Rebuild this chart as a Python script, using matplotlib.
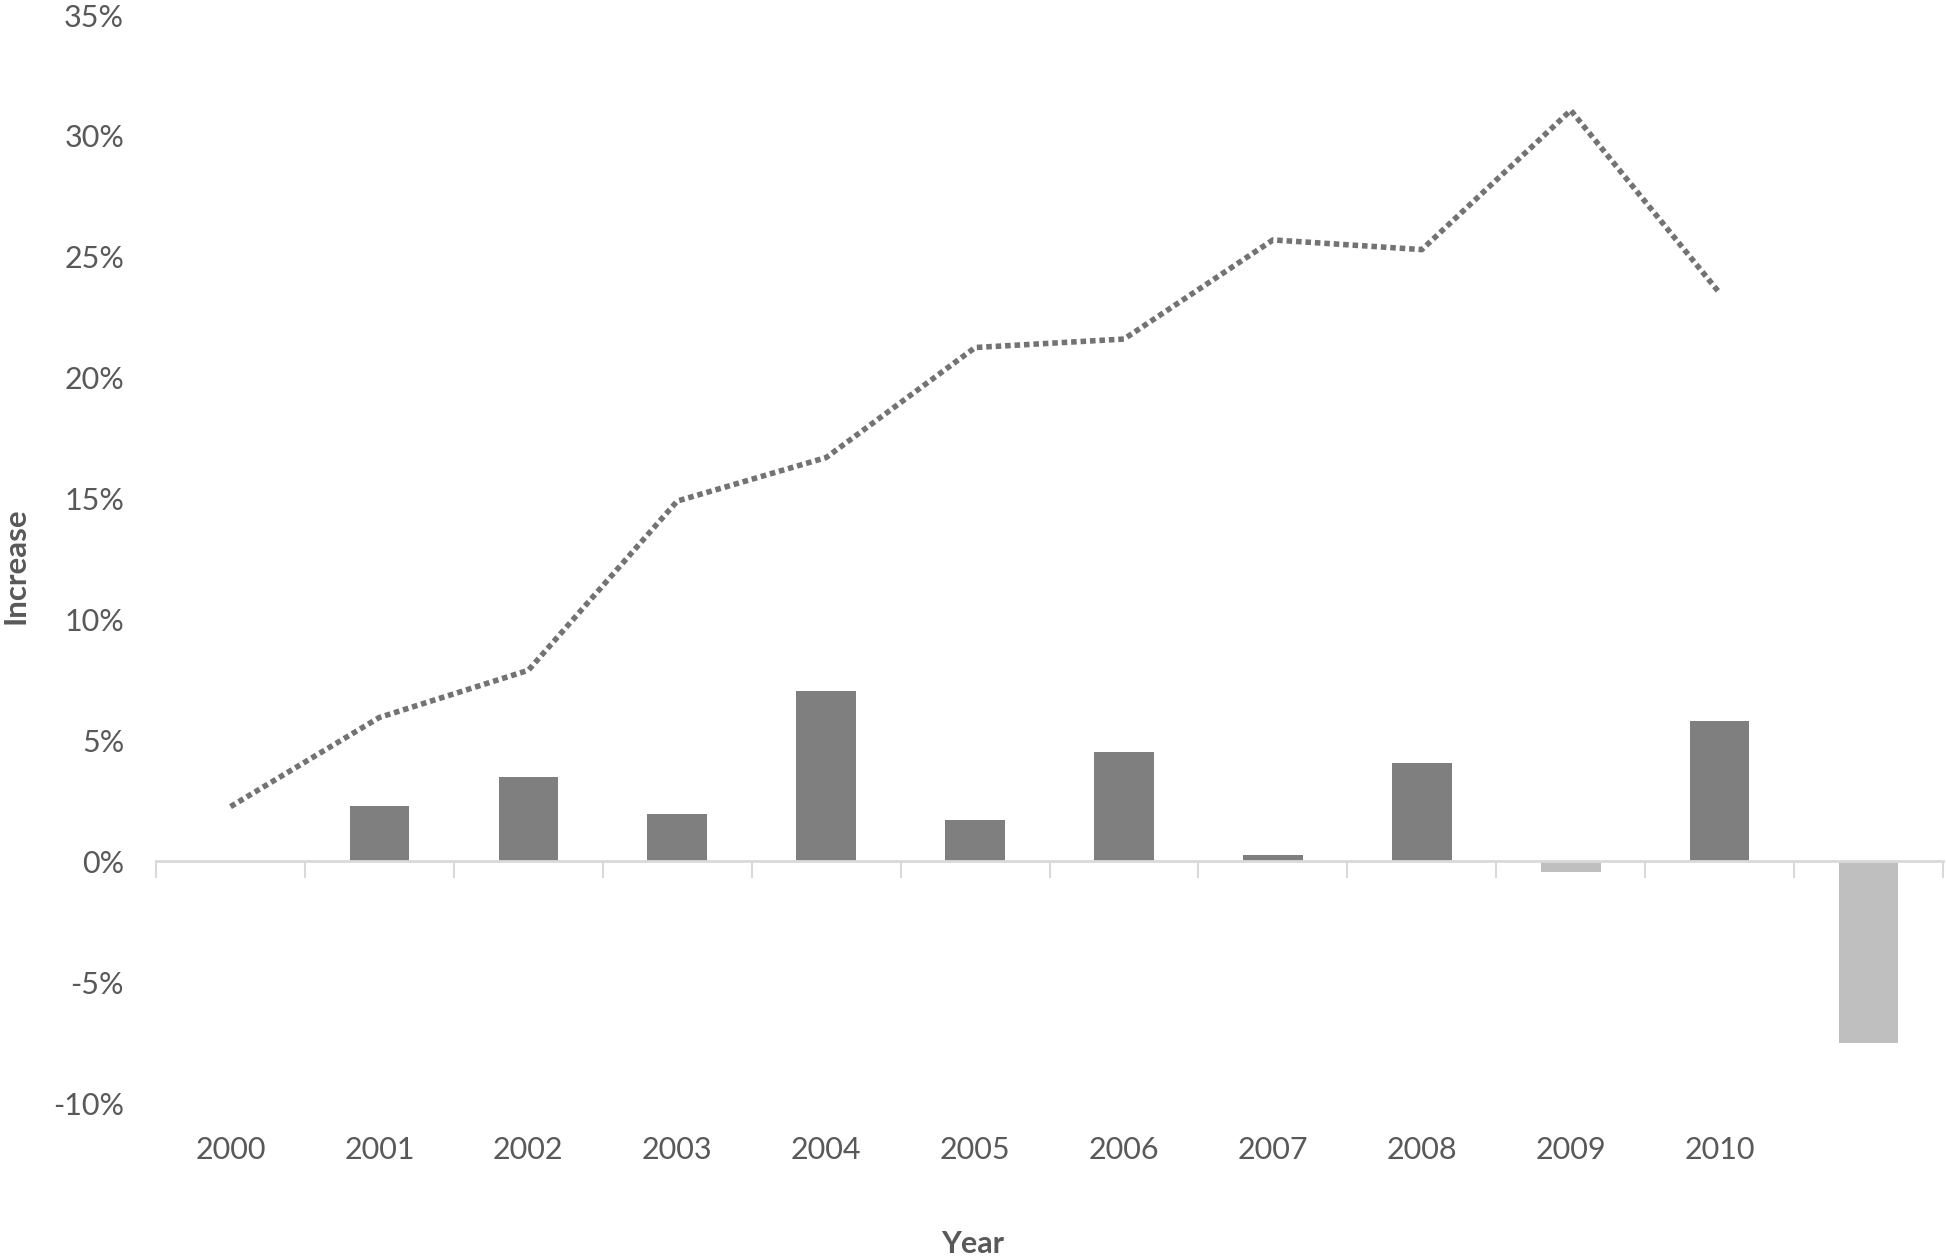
import numpy as np
import matplotlib
matplotlib.use("Agg")
from matplotlib import pyplot as plt
from matplotlib.ticker import FuncFormatter

plt.rcParams["font.family"] = ["Lato", "DejaVu Sans"]

years = ["2000", "2001", "2002", "2003", "2004", "2005", "2006", "2007", "2008", "2009", "2010", ""]
# bar series (percent), first slot empty
bar_vals = [np.nan, 2.3, 3.5, 1.95, 7.03, 1.7, 4.5, 0.26, 4.05, -0.46, 5.8, -7.5]
# dotted line series (percent), covers 2000-2010
line_vals = [2.26, 5.95, 7.9, 14.9, 16.7, 21.25, 21.6, 25.7, 25.3, 31.06, 23.5]

text_col = "#595959"
dark = "#7f7f7f"
light = "#bfbfbf"

fig = plt.figure(figsize=(19.46, 12.58), dpi=100)
ax = fig.add_axes([0.0802, 0.1232, 0.9183, 0.8648])

x = np.arange(len(years))
cols = [light if (v < 0) else dark for v in np.nan_to_num(bar_vals)]
ax.bar(x, np.nan_to_num(bar_vals), width=0.4, color=cols, zorder=2)
ax.plot(np.arange(len(line_vals)), line_vals, color="#737373", linewidth=4.0,
        dashes=(1, 0.7), dash_capstyle="butt", zorder=3)

ax.set_xlim(-0.5, len(years) - 0.5)
ax.set_ylim(-10, 35)
ax.set_yticks(np.arange(-10, 36, 5))
ax.yaxis.set_major_formatter(FuncFormatter(lambda v, p: "{0:.0f}%".format(v)))
ax.tick_params(axis="y", length=0, pad=23, labelsize=22, labelcolor=text_col)

for s in ["top", "right", "left"]:
	ax.spines[s].set_visible(False)
ax.spines["bottom"].set_position(("data", 0))
ax.spines["bottom"].set_color("#d9d9d9")
ax.spines["bottom"].set_linewidth(2)
ax.set_xticks(np.arange(len(years) + 1) - 0.5)
ax.set_xticklabels([])
ax.tick_params(axis="x", length=12, width=1.5, color="#d9d9d9", direction="out")

sec = ax.secondary_xaxis("bottom")
sec.set_xticks(x)
sec.set_xticklabels(years)
sec.spines["bottom"].set_visible(False)
sec.tick_params(length=0, pad=24, labelsize=22, labelcolor=text_col)

fig.text(0.0078, 0.55, "Increase", rotation=90, ha="center", va="center",
         fontsize=22.5, fontweight="bold", color=text_col)
fig.text(0.5, 0.0115, "Year", ha="center", va="center",
         fontsize=22, fontweight="bold", color=text_col)

fig.savefig("out.png", dpi=100)
